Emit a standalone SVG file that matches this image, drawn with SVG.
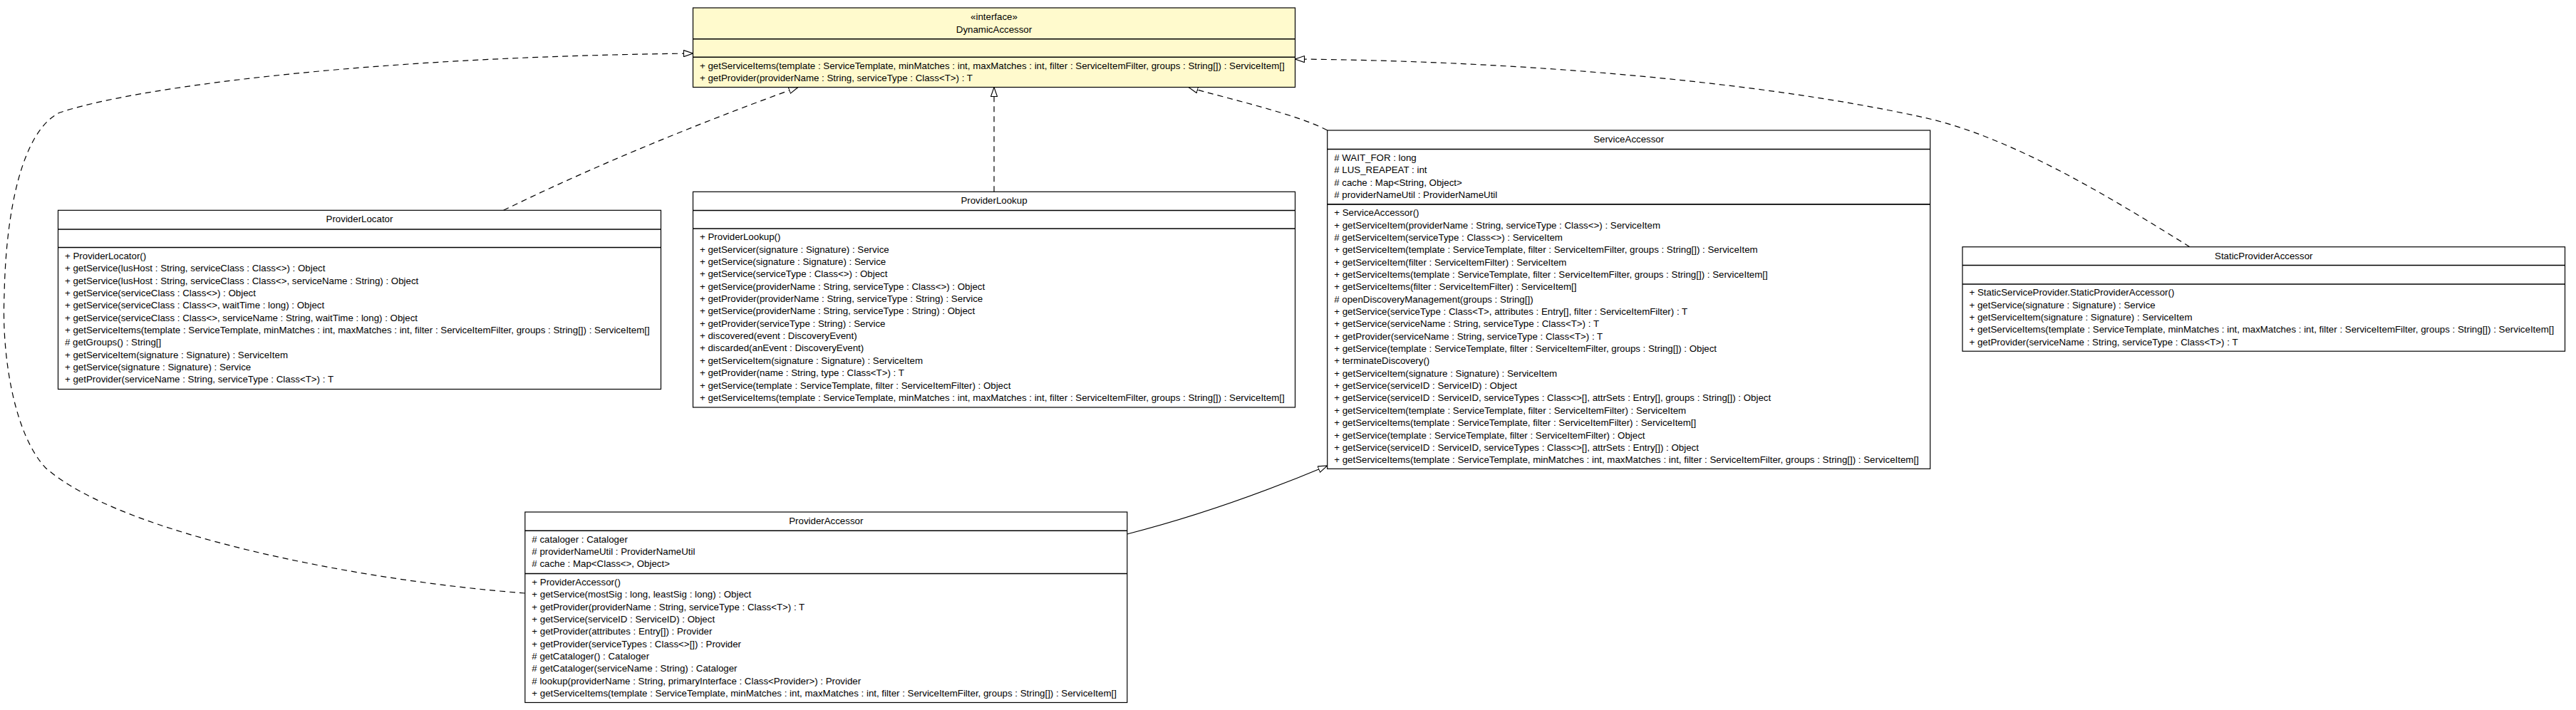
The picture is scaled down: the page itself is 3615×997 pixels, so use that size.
<svg xmlns="http://www.w3.org/2000/svg" width="3615" height="997" viewBox="0 0 3615 997">
<style>
.box{fill:#ffffff;stroke:#000;stroke-width:1.2}
.iface{fill:#fffacd}
.sep{stroke:#000;stroke-width:1.6}
text{font-family:"Liberation Sans",Arial,Helvetica,sans-serif;font-size:13.3px;fill:#000}
.t{text-anchor:middle}
.edge{fill:none;stroke:#000;stroke-width:1.2}
.dash{stroke-dasharray:8 6}
</style>
<defs>
<marker id="tri" viewBox="0 0 14 10" refX="13.5" refY="5" markerWidth="14" markerHeight="10" markerUnits="userSpaceOnUse" orient="auto">
<path d="M0.5,0.5 L13.5,5 L0.5,9.5 Z" fill="#fff" stroke="#000" stroke-width="1.1" stroke-dasharray="none"/>
</marker>
</defs>
<rect x="0" y="0" width="3615" height="997" fill="#fff"/>

<g id="edges">
<path class="edge dash" d="M706.6,295.3 C850,225 1010,162 1120,122.5" marker-end="url(#tri)"/>
<path class="edge dash" d="M1395,269.3 L1395,122.5" marker-end="url(#tri)"/>
<path class="edge dash" d="M1862.7,183 C1820,160 1720,138 1668,122.5" marker-end="url(#tri)"/>
<path class="edge dash" d="M3073,346.7 C2950,270 2820,192 2700,165 C2450,110 2100,85 1817.5,83" marker-end="url(#tri)"/>
<path class="edge dash" d="M736.8,833 C500,815 170,750 64,657 C20,610 2,500 6,414 C8,300 30,185 83.3,158.3 C180,125 500,80 972.5,75" marker-end="url(#tri)"/>
<path class="edge" d="M1581.7,750 Q1715,716 1862.7,654" marker-end="url(#tri)"/>
</g>

<g id="DynamicAccessor">
<rect class="box iface" x="972.5" y="11" width="845" height="111.5"/>
<line class="sep" x1="972.5" y1="54.7" x2="1817.5" y2="54.7"/>
<line class="sep" x1="972.5" y1="80.2" x2="1817.5" y2="80.2"/>
<text class="t" x="1395" y="28">«interface»</text>
<text class="t" x="1395" y="45.5">DynamicAccessor</text>
<text x="982" y="96.5">
<tspan x="982" dy="0">+ getServiceItems(template : ServiceTemplate, minMatches : int, maxMatches : int, filter : ServiceItemFilter, groups : String[]) : ServiceItem[]</tspan>
<tspan x="982" dy="17.35">+ getProvider(providerName : String, serviceType : Class&lt;T&gt;) : T</tspan>
</text>
</g>

<g id="ProviderLocator">
<rect class="box" x="81.5" y="295.3" width="846" height="251.2"/>
<line class="sep" x1="81.5" y1="322" x2="927.5" y2="322"/>
<line class="sep" x1="81.5" y1="347.5" x2="927.5" y2="347.5"/>
<text class="t" x="504.5" y="312.3">ProviderLocator</text>
<text x="91" y="363.8">
<tspan x="91" dy="0">+ ProviderLocator()</tspan>
<tspan x="91" dy="17.35">+ getService(lusHost : String, serviceClass : Class&lt;&gt;) : Object</tspan>
<tspan x="91" dy="17.35">+ getService(lusHost : String, serviceClass : Class&lt;&gt;, serviceName : String) : Object</tspan>
<tspan x="91" dy="17.35">+ getService(serviceClass : Class&lt;&gt;) : Object</tspan>
<tspan x="91" dy="17.35">+ getService(serviceClass : Class&lt;&gt;, waitTime : long) : Object</tspan>
<tspan x="91" dy="17.35">+ getService(serviceClass : Class&lt;&gt;, serviceName : String, waitTime : long) : Object</tspan>
<tspan x="91" dy="17.35">+ getServiceItems(template : ServiceTemplate, minMatches : int, maxMatches : int, filter : ServiceItemFilter, groups : String[]) : ServiceItem[]</tspan>
<tspan x="91" dy="17.35"># getGroups() : String[]</tspan>
<tspan x="91" dy="17.35">+ getServiceItem(signature : Signature) : ServiceItem</tspan>
<tspan x="91" dy="17.35">+ getService(signature : Signature) : Service</tspan>
<tspan x="91" dy="17.35">+ getProvider(serviceName : String, serviceType : Class&lt;T&gt;) : T</tspan>
</text>
</g>

<g id="ProviderLookup">
<rect class="box" x="972.5" y="269.3" width="845" height="302.7"/>
<line class="sep" x1="972.5" y1="295.5" x2="1817.5" y2="295.5"/>
<line class="sep" x1="972.5" y1="321" x2="1817.5" y2="321"/>
<text class="t" x="1395" y="286.3">ProviderLookup</text>
<text x="982" y="337.3">
<tspan x="982" dy="0">+ ProviderLookup()</tspan>
<tspan x="982" dy="17.35">+ getServicer(signature : Signature) : Service</tspan>
<tspan x="982" dy="17.35">+ getService(signature : Signature) : Service</tspan>
<tspan x="982" dy="17.35">+ getService(serviceType : Class&lt;&gt;) : Object</tspan>
<tspan x="982" dy="17.35">+ getService(providerName : String, serviceType : Class&lt;&gt;) : Object</tspan>
<tspan x="982" dy="17.35">+ getProvider(providerName : String, serviceType : String) : Service</tspan>
<tspan x="982" dy="17.35">+ getService(providerName : String, serviceType : String) : Object</tspan>
<tspan x="982" dy="17.35">+ getProvider(serviceType : String) : Service</tspan>
<tspan x="982" dy="17.35">+ discovered(event : DiscoveryEvent)</tspan>
<tspan x="982" dy="17.35">+ discarded(anEvent : DiscoveryEvent)</tspan>
<tspan x="982" dy="17.35">+ getServiceItem(signature : Signature) : ServiceItem</tspan>
<tspan x="982" dy="17.35">+ getProvider(name : String, type : Class&lt;T&gt;) : T</tspan>
<tspan x="982" dy="17.35">+ getService(template : ServiceTemplate, filter : ServiceItemFilter) : Object</tspan>
<tspan x="982" dy="17.35">+ getServiceItems(template : ServiceTemplate, minMatches : int, maxMatches : int, filter : ServiceItemFilter, groups : String[]) : ServiceItem[]</tspan>
</text>
</g>

<g id="ServiceAccessor">
<rect class="box" x="1862.7" y="183" width="846" height="475.3"/>
<line class="sep" x1="1862.7" y1="209.5" x2="2708.7" y2="209.5"/>
<line class="sep" x1="1862.7" y1="286.9" x2="2708.7" y2="286.9"/>
<text class="t" x="2285.7" y="200">ServiceAccessor</text>
<text x="1872.2" y="225.8">
<tspan x="1872.2" dy="0"># WAIT_FOR : long</tspan>
<tspan x="1872.2" dy="17.35"># LUS_REAPEAT : int</tspan>
<tspan x="1872.2" dy="17.35"># cache : Map&lt;String, Object&gt;</tspan>
<tspan x="1872.2" dy="17.35"># providerNameUtil : ProviderNameUtil</tspan>
</text>
<text x="1872.2" y="303.2">
<tspan x="1872.2" dy="0">+ ServiceAccessor()</tspan>
<tspan x="1872.2" dy="17.35">+ getServiceItem(providerName : String, serviceType : Class&lt;&gt;) : ServiceItem</tspan>
<tspan x="1872.2" dy="17.35"># getServiceItem(serviceType : Class&lt;&gt;) : ServiceItem</tspan>
<tspan x="1872.2" dy="17.35">+ getServiceItem(template : ServiceTemplate, filter : ServiceItemFilter, groups : String[]) : ServiceItem</tspan>
<tspan x="1872.2" dy="17.35">+ getServiceItem(filter : ServiceItemFilter) : ServiceItem</tspan>
<tspan x="1872.2" dy="17.35">+ getServiceItems(template : ServiceTemplate, filter : ServiceItemFilter, groups : String[]) : ServiceItem[]</tspan>
<tspan x="1872.2" dy="17.35">+ getServiceItems(filter : ServiceItemFilter) : ServiceItem[]</tspan>
<tspan x="1872.2" dy="17.35"># openDiscoveryManagement(groups : String[])</tspan>
<tspan x="1872.2" dy="17.35">+ getService(serviceType : Class&lt;T&gt;, attributes : Entry[], filter : ServiceItemFilter) : T</tspan>
<tspan x="1872.2" dy="17.35">+ getService(serviceName : String, serviceType : Class&lt;T&gt;) : T</tspan>
<tspan x="1872.2" dy="17.35">+ getProvider(serviceName : String, serviceType : Class&lt;T&gt;) : T</tspan>
<tspan x="1872.2" dy="17.35">+ getService(template : ServiceTemplate, filter : ServiceItemFilter, groups : String[]) : Object</tspan>
<tspan x="1872.2" dy="17.35">+ terminateDiscovery()</tspan>
<tspan x="1872.2" dy="17.35">+ getServiceItem(signature : Signature) : ServiceItem</tspan>
<tspan x="1872.2" dy="17.35">+ getService(serviceID : ServiceID) : Object</tspan>
<tspan x="1872.2" dy="17.35">+ getService(serviceID : ServiceID, serviceTypes : Class&lt;&gt;[], attrSets : Entry[], groups : String[]) : Object</tspan>
<tspan x="1872.2" dy="17.35">+ getServiceItem(template : ServiceTemplate, filter : ServiceItemFilter) : ServiceItem</tspan>
<tspan x="1872.2" dy="17.35">+ getServiceItems(template : ServiceTemplate, filter : ServiceItemFilter) : ServiceItem[]</tspan>
<tspan x="1872.2" dy="17.35">+ getService(template : ServiceTemplate, filter : ServiceItemFilter) : Object</tspan>
<tspan x="1872.2" dy="17.35">+ getService(serviceID : ServiceID, serviceTypes : Class&lt;&gt;[], attrSets : Entry[]) : Object</tspan>
<tspan x="1872.2" dy="17.35">+ getServiceItems(template : ServiceTemplate, minMatches : int, maxMatches : int, filter : ServiceItemFilter, groups : String[]) : ServiceItem[]</tspan>
</text>
</g>

<g id="StaticProviderAccessor">
<rect class="box" x="2754" y="346.7" width="845.5" height="146.5"/>
<line class="sep" x1="2754" y1="372.5" x2="3599.5" y2="372.5"/>
<line class="sep" x1="2754" y1="399" x2="3599.5" y2="399"/>
<text class="t" x="3176.75" y="363.7">StaticProviderAccessor</text>
<text x="2763.5" y="415.3">
<tspan x="2763.5" dy="0">+ StaticServiceProvider.StaticProviderAccessor()</tspan>
<tspan x="2763.5" dy="17.35">+ getService(signature : Signature) : Service</tspan>
<tspan x="2763.5" dy="17.35">+ getServiceItem(signature : Signature) : ServiceItem</tspan>
<tspan x="2763.5" dy="17.35">+ getServiceItems(template : ServiceTemplate, minMatches : int, maxMatches : int, filter : ServiceItemFilter, groups : String[]) : ServiceItem[]</tspan>
<tspan x="2763.5" dy="17.35">+ getProvider(serviceName : String, serviceType : Class&lt;T&gt;) : T</tspan>
</text>
</g>

<g id="ProviderAccessor">
<rect class="box" x="736.8" y="719" width="845" height="267.5"/>
<line class="sep" x1="736.8" y1="745.3" x2="1581.8" y2="745.3"/>
<line class="sep" x1="736.8" y1="805.5" x2="1581.8" y2="805.5"/>
<text class="t" x="1159.3" y="735.8">ProviderAccessor</text>
<text x="746.3" y="761.6">
<tspan x="746.3" dy="0"># cataloger : Cataloger</tspan>
<tspan x="746.3" dy="17.35"># providerNameUtil : ProviderNameUtil</tspan>
<tspan x="746.3" dy="17.35"># cache : Map&lt;Class&lt;&gt;, Object&gt;</tspan>
</text>
<text x="746.3" y="821.8">
<tspan x="746.3" dy="0">+ ProviderAccessor()</tspan>
<tspan x="746.3" dy="17.35">+ getService(mostSig : long, leastSig : long) : Object</tspan>
<tspan x="746.3" dy="17.35">+ getProvider(providerName : String, serviceType : Class&lt;T&gt;) : T</tspan>
<tspan x="746.3" dy="17.35">+ getService(serviceID : ServiceID) : Object</tspan>
<tspan x="746.3" dy="17.35">+ getProvider(attributes : Entry[]) : Provider</tspan>
<tspan x="746.3" dy="17.35">+ getProvider(serviceTypes : Class&lt;&gt;[]) : Provider</tspan>
<tspan x="746.3" dy="17.35"># getCataloger() : Cataloger</tspan>
<tspan x="746.3" dy="17.35"># getCataloger(serviceName : String) : Cataloger</tspan>
<tspan x="746.3" dy="17.35"># lookup(providerName : String, primaryInterface : Class&lt;Provider&gt;) : Provider</tspan>
<tspan x="746.3" dy="17.35">+ getServiceItems(template : ServiceTemplate, minMatches : int, maxMatches : int, filter : ServiceItemFilter, groups : String[]) : ServiceItem[]</tspan>
</text>
</g>
</svg>
